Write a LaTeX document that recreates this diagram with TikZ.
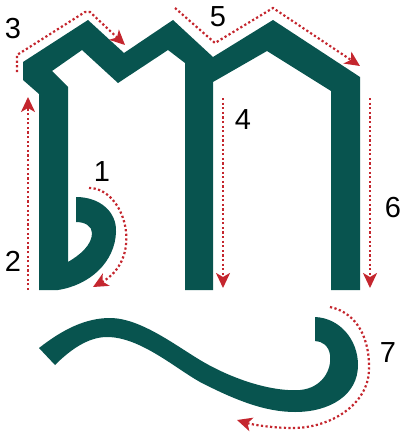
\documentclass[tikz,border=0pt]{standalone}
\usepackage{fontspec}
\setmainfont{Liberation Sans}
\usepackage{tikz}
\usetikzlibrary{arrows.meta}
\definecolor{glyph}{HTML}{08544F}
\definecolor{guide}{HTML}{C4262E}

\begin{document}
\begin{tikzpicture}[x=1pt, y=-1pt, every node/.style={font=\fontsize{29}{29}\selectfont}]
\tikzset{guidepath/.style={guide, line width=2.2pt, dash pattern=on 2.2pt off 2.4pt,
    -{Stealth[length=15pt, width=14pt, inset=4pt]}},
  num/.style={inner sep=0, anchor=center}}
\useasboundingbox (0,0) rectangle (403,436);
% --- glyph body ---
\fill[glyph] (39,290) -- (39,94) -- (23,80) -- (23,62) -- (88,20) -- (124,53) -- (173,20)
  -- (213,57) -- (273,20) -- (360,77) -- (360,290) -- (331,290) -- (331,91) -- (267,51)
  -- (213,82) -- (213,290) -- (185,290) -- (185,63) -- (168,50) -- (118,83) -- (82,50)
  -- (52,71) -- (68,87) -- (68,262) .. controls (80,255) and (92,245) .. (92,233)
  .. controls (92,226) and (85,222) .. (76,222) -- (76,197)
  .. controls (100,197) and (117,212) .. (116,232)
  .. controls (115,262) and (90,285) .. (58,290) -- cycle;
% --- tail ---
\fill[glyph] (39,348) .. controls (62,330) and (85,318) .. (110,318)
  .. controls (140,318) and (175,345) .. (200,360)
  .. controls (230,378) and (270,392) .. (300,390)
  .. controls (322,388) and (332,370) .. (330,355)
  .. controls (329,346) and (322,341) .. (315,341) -- (315,317)
  .. controls (340,318) and (358,340) .. (358,365)
  .. controls (358,395) and (330,412) .. (295,412)
  .. controls (265,412) and (235,400) .. (200,382)
  .. controls (175,368) and (140,337) .. (107,337)
  .. controls (88,337) and (70,350) .. (55,365) -- cycle;
% --- guide points ---
\coordinate (s1a) at (89,188);  \coordinate (s1b) at (93,287);
\coordinate (s2a) at (28,290);  \coordinate (s2b) at (28,97);
\coordinate (s3a) at (17,72);   \coordinate (s3b) at (17,55);
\coordinate (s3c) at (85,12);   \coordinate (s3d) at (90,12);  \coordinate (s3e) at (125,45);
\coordinate (s4a) at (223,98);  \coordinate (s4b) at (223,288);
\coordinate (s5a) at (175,8);   \coordinate (s5b) at (215,43);
\coordinate (s5c) at (273,8);   \coordinate (s5d) at (360,66);
\coordinate (s6a) at (370,98);  \coordinate (s6b) at (370,288);
\coordinate (s7a) at (330,307); \coordinate (s7b) at (369,370);
\coordinate (s7c) at (293,428); \coordinate (s7d) at (237,420);
% --- stroke order ---
\draw[guidepath] (s1a) .. controls (125,188) and (145,258) .. (s1b);
\draw[guidepath] (s2a) -- (s2b);
\draw[guidepath] (s3a) -- (s3b) -- (s3c) -- (s3d) -- (s3e);
\draw[guidepath] (s4a) -- (s4b);
\draw[guidepath] (s5a) -- (s5b) -- (s5c) -- (s5d);
\draw[guidepath] (s6a) -- (s6b);
\draw[guidepath] (s7a) .. controls (358,313) and (370,340) .. (s7b)
  .. controls (368,405) and (330,428) .. (s7c) .. controls (270,428) and (250,424) .. (s7d);
\foreach \k/\px/\py in {1/102/172, 2/13/261, 3/13/29, 4/243/120, 5/218/17, 6/393/208, 7/388/353}
  \node[num] (n\k) at (\px,\py) {\k};
\end{tikzpicture}
\end{document}
